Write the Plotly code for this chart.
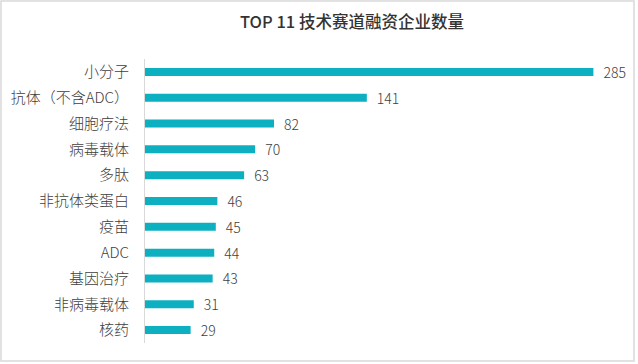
import plotly.graph_objects as go

categories = ["小分子", "抗体（不含ADC）", "细胞疗法", "病毒载体", "多肽", "非抗体类蛋白",
              "疫苗", "ADC", "基因治疗", "非病毒载体", "核药"]
values = [285, 141, 82, 70, 63, 46, 45, 44, 43, 31, 29]

W, H = 638, 364
ml, mr, mt, mb = 145, 21, 59, 21
pw = W - ml - mr
ph = H - mt - mb

fig = go.Figure(go.Bar(
    x=values, y=categories, orientation="h",
    marker=dict(color="#0DB0C0", line=dict(width=0)),
    text=["\u2002" + str(v) for v in values], textposition="outside",
    textfont=dict(size=14, color="#404040", weight=300),
    constraintext="none",
    cliponaxis=False, width=0.31,
))

fig.update_layout(
    width=W, height=H,
    margin=dict(l=ml, r=mr, t=mt, b=mb, pad=0),
    paper_bgcolor="white", plot_bgcolor="white",
    font=dict(family="Noto Sans CJK SC, Noto Sans, sans-serif", color="#404040"),
    title=dict(text="TOP 11 技术赛道融资企业数量", x=352/W, xanchor="center",
               y=1 - 22/H, yanchor="middle",
               font=dict(size=16.5, color="#333333", weight=500)),
    showlegend=False,
    xaxis=dict(range=[0, 300], visible=False, fixedrange=True),
    yaxis=dict(autorange="reversed", showline=True, linecolor="#D9D9D9", linewidth=1,
               ticks="", ticklabelstandoff=12,
               tickfont=dict(size=15, color="#404040", weight=300),
               showgrid=False, zeroline=False, fixedrange=True),
)

def px2paper_x(px):
    return (px - ml) / pw

def px2paper_y(py):
    return (H - mb - py) / ph

fig.add_shape(type="rect", xref="paper", yref="paper",
              x0=px2paper_x(1), x1=px2paper_x(634), y0=px2paper_y(361), y1=px2paper_y(1),
              line=dict(color="#D9D9D9", width=1.5), fillcolor="rgba(0,0,0,0)", layer="below")

fig.write_html("out.html", config={"displayModeBar": False},
               post_script="document.body.style.margin='0';document.body.style.overflow='hidden';")
